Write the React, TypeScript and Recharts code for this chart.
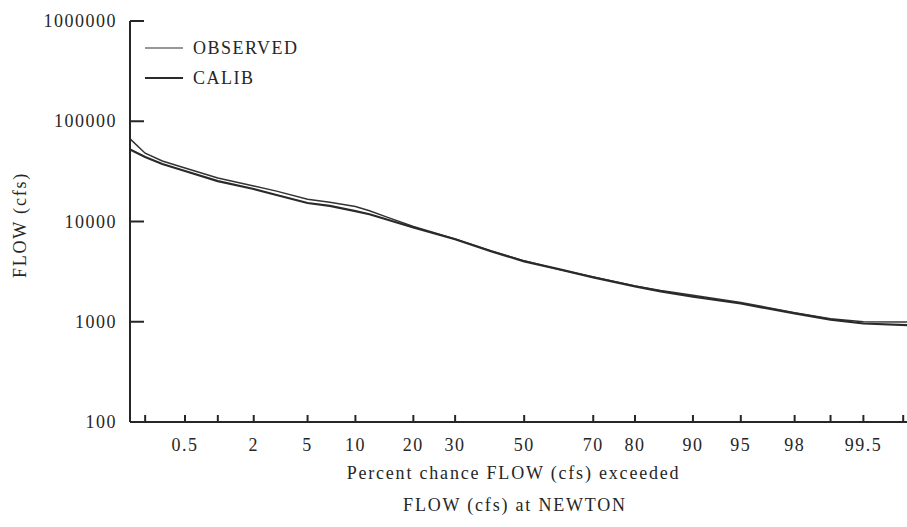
import React from "react";
import { LineChart, Line, XAxis, YAxis } from "recharts";

// exceedance percent (x) and flows in cfs
const PCT = [0.14, 0.2, 0.3, 0.5, 1, 2, 3, 5, 7, 10, 12, 15, 20, 30, 40, 50, 60, 70, 80, 85, 90, 95, 98, 99, 99.5, 99.85];
const OBSERVED = [66000, 48000, 40200, 34200, 27200, 22600, 20100, 16700, 15600, 14100, 12800, 11000, 8900, 6700, 5100, 4050, 3350, 2800, 2280, 2050, 1840, 1560, 1230, 1070, 1000, 990];
const CALIB = [52000, 44000, 37500, 31900, 25300, 21100, 18400, 15300, 14300, 12700, 11800, 10400, 8700, 6650, 5050, 4000, 3370, 2770, 2250, 2010, 1780, 1520, 1210, 1050, 960, 920];

const X_TICKS = [0.2, 0.5, 1, 2, 5, 10, 20, 30, 50, 70, 80, 90, 95, 98, 99, 99.5, 99.8];
const X_LABELS = ["", "0.5", "", "2", "5", "10", "20", "30", "50", "70", "80", "90", "95", "98", "", "99.5", ""];
const X_DOMAIN = [0.138, 99.85];

const Y_DECADES = [100, 1000, 10000, 100000, 1000000];
const Y_MINOR = [2, 3, 4, 5, 6, 7, 8, 9];

const FONT = "'Liberation Serif', 'Times New Roman', serif";
const INK = "#262626";
const PLOT_LEFT = 130;
const PLOT_TOP = 21;
const PLOT_BOTTOM = 422;

// inverse standard normal cdf (normal probability paper)
function probit(p: number): number {
  const a = [-39.69683028665376, 220.9460984245205, -275.9285104469687, 138.357751867269, -30.66479806614716, 2.506628277459239];
  const b = [-54.47609879822406, 161.5858368580409, -155.6989798598866, 66.80131188771972, -13.28068155288572];
  const c = [-0.007784894002430293, -0.3223964580411365, -2.400758277161838, -2.549732539343734, 4.374664141464968, 2.938163982698783];
  const d = [0.007784695709041462, 0.3224671290700398, 2.445134137142996, 3.754408661907416];
  const lo = 0.02425;
  if (p < lo) {
    const q = Math.sqrt(-2 * Math.log(p));
    return (((((c[0] * q + c[1]) * q + c[2]) * q + c[3]) * q + c[4]) * q + c[5]) / ((((d[0] * q + d[1]) * q + d[2]) * q + d[3]) * q + 1);
  }
  if (p <= 1 - lo) {
    const q = p - 0.5;
    const r = q * q;
    return ((((((a[0] * r + a[1]) * r + a[2]) * r + a[3]) * r + a[4]) * r + a[5]) * q) / (((((b[0] * r + b[1]) * r + b[2]) * r + b[3]) * r + b[4]) * r + 1);
  }
  const q = Math.sqrt(-2 * Math.log(1 - p));
  return -(((((c[0] * q + c[1]) * q + c[2]) * q + c[3]) * q + c[4]) * q + c[5]) / ((((d[0] * q + d[1]) * q + d[2]) * q + d[3]) * q + 1);
}

const z = (pct: number) => probit(pct / 100);

const data = PCT.map((p, i) => ({ z: z(p), observed: OBSERVED[i], calib: CALIB[i] }));
const xTicks = X_TICKS.map(z);
const xDomain = X_DOMAIN.map(z);
const yMinorTicks = Y_DECADES.slice(0, -1).flatMap((d) => Y_MINOR.map((m) => d * m));

const tickText = { fontFamily: FONT, fontSize: 18, letterSpacing: "1.5px" };
const titleText = { fontFamily: FONT, fontSize: 18, letterSpacing: "1.8px" };

function BottomTick(props: any) {
  const { x, index } = props;
  const label = X_LABELS[index];
  return label ? (
    <text x={x} y={PLOT_BOTTOM + 29} textAnchor="middle" fill={INK} style={tickText}>
      {label}
    </text>
  ) : (
    <g />
  );
}

function LeftTick(props: any) {
  const { y, payload } = props;
  return (
    <text x={PLOT_LEFT - 13} y={y + 6} textAnchor="end" fill={INK} style={tickText}>
      {String(payload.value)}
    </text>
  );
}

const logY = { scale: "log" as const, domain: [100, 1000000], allowDataOverflow: true, interval: 0 as const };
const zX = { dataKey: "z", type: "number" as const, domain: xDomain, allowDataOverflow: true, ticks: xTicks, interval: 0 as const };
const tickStroke = { stroke: INK, strokeWidth: 2 };

export default function App() {
  return (
    <div style={{ position: "absolute", left: 0, top: 0, width: 907, height: 527, overflow: "hidden", background: "#fff" }}>
      <LineChart width={915} height={527} data={data} margin={{ top: PLOT_TOP, right: 0, bottom: 75, left: 0 }}>
        <XAxis
          {...zX}
          height={30}
          tickLine={tickStroke}
          tickSize={-7}
          axisLine={{ stroke: INK, strokeWidth: 2 }}
          tick={(p: any) => <BottomTick {...p} />}
        />
        <XAxis
          {...zX}
          xAxisId="top"
          orientation="top"
          height={0}
          tick={false}
          tickLine={tickStroke}
          tickSize={-7}
          axisLine={{ stroke: INK, strokeWidth: 2 }}
        />
        <YAxis
          {...logY}
          ticks={Y_DECADES}
          width={PLOT_LEFT}
          tickLine={tickStroke}
          tickSize={-14}
          axisLine={{ stroke: INK, strokeWidth: 2 }}
          tick={(p: any) => <LeftTick {...p} />}
        />
        <YAxis
          {...logY}
          yAxisId="minor"
          ticks={yMinorTicks}
          width={0}
          tick={false}
          tickLine={tickStroke}
          tickSize={-6}
          axisLine={false}
        />
        <Line dataKey="observed" type="linear" stroke="#333" strokeWidth={1.5} dot={false} isAnimationActive={false} />
        <Line dataKey="calib" type="linear" stroke="#2a2a2a" strokeWidth={2.2} dot={false} isAnimationActive={false} />
      </LineChart>

      {/* legend */}
      <div style={{ position: "absolute", left: 145, top: 33, color: INK, lineHeight: "30px", ...tickText }}>
        <div style={{ display: "flex", alignItems: "center" }}>
          <svg width={48} height={10}><line x1={0} x2={38} y1={5} y2={5} stroke="#333" strokeWidth={1.2} /></svg>
          OBSERVED
        </div>
        <div style={{ display: "flex", alignItems: "center" }}>
          <svg width={48} height={10}><line x1={0} x2={38} y1={5} y2={5} stroke="#2a2a2a" strokeWidth={2.2} /></svg>
          CALIB
        </div>
      </div>

      {/* axis titles */}
      <div style={{ position: "absolute", left: 0, width: 1027, top: 463, textAlign: "center", color: INK, ...titleText }}>
        Percent chance FLOW (cfs) exceeded
      </div>
      <div style={{ position: "absolute", left: 0, width: 1030, top: 495, textAlign: "center", color: INK, ...titleText }}>
        FLOW (cfs) at NEWTON
      </div>
      <div
        style={{
          position: "absolute",
          left: 20,
          top: 225,
          transform: "translate(-50%, -50%) rotate(-90deg)",
          whiteSpace: "nowrap",
          color: INK,
          ...titleText,
        }}
      >
        FLOW (cfs)
      </div>
    </div>
  );
}
